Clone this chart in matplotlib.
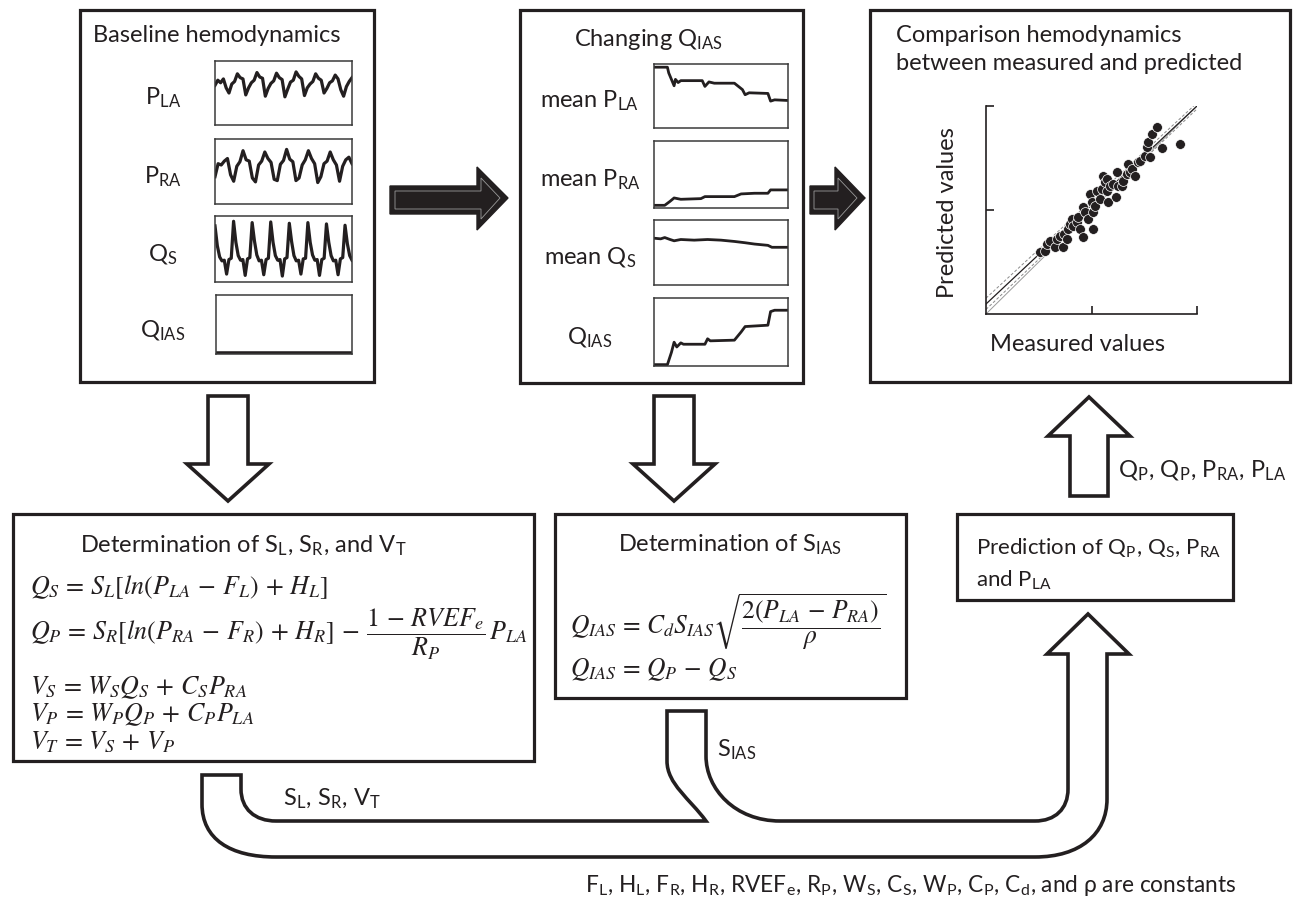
import matplotlib
matplotlib.use("Agg")
import matplotlib.pyplot as plt
from matplotlib.patches import Rectangle, Polygon, PathPatch
from matplotlib.path import Path

W, H = 1304, 904
INK = "#231f20"

plt.rcParams["font.family"] = ["Lato", "DejaVu Sans"]
plt.rcParams["mathtext.fontset"] = "stix"

# ---- data (mini traces normalised to box height) ----
pla_base = [0.62, 0.70, 0.66, 0.72, 0.58, 0.50,
            0.64, 0.68, 0.80, 0.74, 0.72, 0.47, 0.58,
            0.66, 0.70, 0.82, 0.75, 0.73, 0.45, 0.57,
            0.65, 0.69, 0.81, 0.74, 0.71, 0.44, 0.56,
            0.67, 0.70, 0.83, 0.76, 0.72, 0.46, 0.58,
            0.64, 0.68, 0.80, 0.73, 0.70, 0.50, 0.57,
            0.66, 0.69, 0.78, 0.72, 0.55, 0.45, 0.60,
            0.68, 0.74]
pra_base = [0.42, 0.62, 0.60, 0.66, 0.70, 0.45, 0.35,
            0.58, 0.65, 0.82, 0.68, 0.66, 0.40, 0.34,
            0.60, 0.66, 0.80, 0.70, 0.64, 0.38, 0.36,
            0.61, 0.67, 0.84, 0.69, 0.65, 0.36, 0.40,
            0.60, 0.68, 0.82, 0.70, 0.62, 0.33, 0.42,
            0.62, 0.66, 0.80, 0.68, 0.60, 0.35,
            0.58, 0.68, 0.72, 0.62]
qs_base = [0.85, 0.55, 0.38, 0.32, 0.33, 0.12, 0.34,
           0.36, 0.92, 0.60, 0.40, 0.33, 0.34, 0.10, 0.35,
           0.37, 0.90, 0.62, 0.41, 0.32, 0.33, 0.11, 0.34,
           0.36, 0.91, 0.60, 0.40, 0.33, 0.34, 0.09, 0.35,
           0.37, 0.89, 0.61, 0.40, 0.32, 0.33, 0.12, 0.35,
           0.36, 0.90, 0.60, 0.41, 0.33, 0.34, 0.10, 0.34,
           0.36, 0.88, 0.60, 0.40, 0.32, 0.33, 0.11, 0.35,
           0.37, 0.86, 0.58, 0.40, 0.33]
qias_base = [0.0, 0.0]

mpla_x = [0, 0.10, 0.11, 0.13, 0.15, 0.16, 0.18, 0.20, 0.36, 0.38, 0.41, 0.45,
          0.60, 0.63, 0.66, 0.68, 0.71, 0.85, 0.87, 0.90, 1.0]
mpla_y = [0.95, 0.95, 0.86, 0.76, 0.66, 0.76, 0.71, 0.74, 0.74, 0.65, 0.72, 0.70,
          0.70, 0.65, 0.60, 0.52, 0.55, 0.54, 0.42, 0.44, 0.43]
mpra_x = [0, 0.08, 0.12, 0.15, 0.20, 0.35, 0.38, 0.60, 0.65, 0.75, 0.85, 0.87, 1.0]
mpra_y = [0.04, 0.04, 0.10, 0.15, 0.13, 0.14, 0.17, 0.17, 0.21, 0.22, 0.22, 0.27, 0.27]
mqs_x = [0, 0.05, 0.08, 0.12, 0.15, 0.20, 0.30, 0.40, 0.50, 0.60, 0.68, 0.75,
         0.85, 0.88, 1.0]
mqs_y = [0.72, 0.71, 0.73, 0.70, 0.68, 0.70, 0.69, 0.70, 0.69, 0.67, 0.65, 0.63,
         0.61, 0.58, 0.58]
qias_x = [0, 0.10, 0.13, 0.15, 0.17, 0.20, 0.22, 0.38, 0.40, 0.42, 0.60, 0.65,
          0.68, 0.85, 0.87, 0.90, 1.0]
qias_y = [0.02, 0.02, 0.20, 0.35, 0.28, 0.34, 0.32, 0.32, 0.40, 0.37, 0.38, 0.50,
          0.58, 0.60, 0.80, 0.82, 0.82]

measured = [25.6, 28.0, 28.8, 30.3, 32.7, 33.5, 35.1, 36.7, 37.0, 38.2, 39.0, 39.8,
            40.6, 41.4, 43.0, 43.8, 44.5, 45.8, 46.1, 46.9, 48.5, 49.3, 50.1, 50.6,
            50.9, 51.7, 52.8, 54.0, 54.8, 55.6, 56.4, 57.2, 57.5, 58.0, 58.8, 60.3,
            61.6, 61.9, 62.7, 64.3, 65.1, 66.7, 67.5, 68.2, 69.0, 70.6, 72.2, 73.0,
            75.4, 76.5, 76.9, 77.7, 78.5, 80.9, 83.3, 91.9]
predicted = [29.6, 30.4, 33.7, 35.3, 32.1, 36.1, 37.7, 32.1, 38.3, 36.1, 40.9, 43.3,
             45.7, 42.5, 44.1, 46.5, 40.9, 36.9, 51.3, 48.9, 45.7, 57.7, 53.7, 40.9,
             48.9, 52.1, 59.3, 55.3, 60.1, 66.5, 63.3, 59.3, 64.9, 53.7, 61.7, 62.5,
             56.1, 68.1, 61.7, 61.7, 64.1, 67.3, 72.1, 68.1, 69.7, 66.5, 72.9, 73.7,
             76.1, 80.1, 82.5, 75.3, 86.5, 89.7, 79.6, 81.7]
line_x = [0, 100]
fit_y = [4.8, 100]
ci_hi_y = [7.6, 101.5]
ci_lo_y = [2.2, 98.6]
ident_y = [0, 100]

fig = plt.figure(figsize=(W / 100, H / 100), dpi=100)
ax = fig.add_axes([0, 0, 1, 1])
ax.set_xlim(0, W)
ax.set_ylim(H, 0)
ax.axis("off")

FS = 17
EQ = 18.7


def box(x0, y0, x1, y1, lw=2.3):
    ax.add_patch(Rectangle((x0, y0), x1 - x0, y1 - y0, fill=False, ec=INK, lw=lw))


def label(x, y, s, ha="center", size=FS, **kw):
    ax.text(x, y, s, ha=ha, va="center", fontsize=size, color=INK, **kw)


def eq(x, y, s, size=EQ):
    ax.text(x, y, s, ha="left", va="center", fontsize=size, color=INK,
            math_fontfamily="stix")


def mini(x0, y0, x1, y1):
    a = fig.add_axes([x0 / W, 1 - y1 / H, (x1 - x0) / W, (y1 - y0) / H])
    a.set_xticks([])
    a.set_yticks([])
    a.patch.set_alpha(0)
    for s in a.spines.values():
        s.set_linewidth(1.1)
        s.set_color("#3a3a3a")
    return a


# ---- top row boxes ----
box(80, 11, 374, 383)
box(520, 11, 803, 384)
box(870, 11, 1290, 383)

label(93, 35, "Baseline hemodynamics", ha="left")
label(648, 40, r"Changing Q$_\mathregular{IAS}$")
label(896, 35, "Comparison hemodynamics", ha="left")
label(896, 64, "between measured and predicted", ha="left")

# baseline mini plots
for (y0, y1), vals, name in zip([(62, 126), (140, 205), (217, 283)],
                               [pla_base, pra_base, qs_base],
                               [r"P$_\mathregular{LA}$", r"P$_\mathregular{RA}$",
                                r"Q$_\mathregular{S}$"]):
    a = mini(215, y0, 352, y1)
    a.plot(range(len(vals)), vals, color=INK, lw=2.3, solid_joinstyle="round")
    a.set_xlim(0, len(vals) - 1)
    a.set_ylim(0, 1)
    label(163, (y0 + y1) / 2 + 4, name)

a = mini(216, 296, 352, 355)
a.plot([0, 1], qias_base, color=INK, lw=4)
a.set_xlim(0, 1)
a.set_ylim(0, 1)
label(163, 330, r"Q$_\mathregular{IAS}$")

# changing Q_IAS mini plots
for (y0, y1), xs, ys, name in zip([(65, 129), (142, 209), (221, 286), (299, 367)],
                                  [mpla_x, mpra_x, mqs_x, qias_x],
                                  [mpla_y, mpra_y, mqs_y, qias_y],
                                  [r"mean P$_\mathregular{LA}$", r"mean P$_\mathregular{RA}$",
                                   r"mean Q$_\mathregular{S}$", r"Q$_\mathregular{IAS}$"]):
    a = mini(654, y0, 788, y1)
    a.plot(xs, ys, color=INK, lw=2.0, solid_joinstyle="round")
    a.set_xlim(0, 1)
    a.set_ylim(0, 1)
    label(590, (y0 + y1) / 2 + 4, name)

# scatter panel
sa = fig.add_axes([986 / W, 1 - 315 / H, (1197 - 986) / W, (315 - 107) / H])
sa.patch.set_alpha(0)
sa.set_xlim(0, 100)
sa.set_ylim(0, 100)
for s in ["top", "right"]:
    sa.spines[s].set_visible(False)
for s in ["left", "bottom"]:
    sa.spines[s].set_linewidth(1.2)
    sa.spines[s].set_color(INK)
sa.set_xticks([50, 100])
sa.set_yticks([50, 100])
sa.tick_params(direction="in", length=6, width=1.2, color=INK,
               labelbottom=False, labelleft=False)
sa.plot(line_x, ident_y, color="#9a9a9a", lw=0.7)
sa.plot(line_x, ci_hi_y, color="#8a8a8a", lw=0.7, ls=(0, (3, 2)))
sa.plot(line_x, ci_lo_y, color="#8a8a8a", lw=0.7, ls=(0, (3, 2)))
sa.plot(line_x, fit_y, color=INK, lw=0.9)
sa.scatter(measured, predicted, s=50, color=INK, edgecolors="white",
           linewidths=0.5, zorder=3, clip_on=False)
label(948, 213, "Predicted values", rotation=90)
label(1078, 345, "Measured values")

# big black arrows between top boxes
for outer, inner in [
    ([(390, 187), (477, 187), (477, 168), (508, 199), (477, 231), (477, 215), (390, 215)],
     [(395, 192), (481, 192), (481, 179), (500, 199), (481, 220), (481, 210), (395, 210)]),
    ([(810, 187), (835, 187), (835, 168), (865, 199), (835, 231), (835, 215), (810, 215)],
     [(814, 192), (838, 192), (838, 179), (857, 199), (838, 220), (838, 210), (814, 210)]),
]:
    ax.add_patch(Polygon(outer, closed=True, fc=INK, ec=INK, lw=1))
    ax.add_patch(Polygon(inner, closed=True, fill=False, ec="#9a9a9a", lw=0.6))


def hollow_arrow(cx, top, base, tip, half_shaft, half_head):
    pts = [(cx - half_shaft, top), (cx + half_shaft, top), (cx + half_shaft, base),
           (cx + half_head, base), (cx, tip), (cx - half_head, base),
           (cx - half_shaft, base)]
    ax.add_patch(Polygon(pts, closed=True, fc="white", ec=INK, lw=2.6,
                         joinstyle="miter"))


hollow_arrow(228, 397, 465, 502, 20, 41)
hollow_arrow(674, 397, 465, 502, 20, 41)
hollow_arrow(1089, 497, 437, 398, 19, 41)

# ---- bottom row boxes ----
box(13, 515, 534, 762)
box(555, 515, 906, 699)
box(957, 515, 1233, 601)

label(243, 545, r"Determination of S$_\mathregular{L}$, S$_\mathregular{R}$, and V$_\mathregular{T}$")
eq(30, 587, r"$Q_S \,=\, S_L[ln(P_{LA} \,-\, F_L) \,+\, H_L]$")
eq(30, 634, r"$Q_P \,=\, S_R[ln(P_{RA} \,-\, F_R) \,+\, H_R] \,-\, "
            r"\dfrac{1 \,-\, RVEF_e}{R_P}\,P_{LA}$")
eq(30, 688, r"$V_S \,=\, W_S Q_S \,+\, C_S P_{RA}$")
eq(30, 715, r"$V_P \,=\, W_P Q_P \,+\, C_P P_{LA}$")
eq(30, 742, r"$V_T \,=\, V_S \,+\, V_P$")

label(730, 545, r"Determination of S$_\mathregular{IAS}$")
eq(570, 622, r"$Q_{IAS} \,=\, C_d S_{IAS} \sqrt{\dfrac{2(P_{LA} \,-\, P_{RA})}{\rho}}$", size=18.4)
eq(570, 670, r"$Q_{IAS} \,=\, Q_P \,-\, Q_S$", size=18.4)

label(976, 548, r"Prediction of Q$_\mathregular{P}$, Q$_\mathregular{S}$, P$_\mathregular{RA}$",
      ha="left", size=16)
label(976, 580, r"and P$_\mathregular{LA}$", ha="left", size=16)
label(1118, 470, r"Q$_\mathregular{P}$, Q$_\mathregular{P}$, P$_\mathregular{RA}$, P$_\mathregular{LA}$", ha="left")

# ---- merged pipe arrow along the bottom ----
M, L, C = Path.MOVETO, Path.LINETO, Path.CURVE4
verts = [(202, 776), (202, 805),
         (202, 840), (230, 858), (276, 858),
         (1035, 858),
         (1080, 858), (1107, 835), (1107, 800),
         (1107, 655), (1129, 655), (1088, 615), (1047, 655), (1068, 655),
         (1068, 790),
         (1068, 810), (1055, 822), (1035, 822),
         (780, 822),
         (735, 822), (706, 790), (706, 757),
         (706, 712), (667, 712), (667, 762),
         (667, 785), (690, 800), (706, 822),
         (276, 822),
         (255, 822), (241, 810), (241, 790),
         (241, 776), (202, 776)]
codes = [M, L,
         C, C, C,
         L,
         C, C, C,
         L, L, L, L, L,
         L,
         C, C, C,
         L,
         C, C, C,
         L, L, L,
         C, C, C,
         L,
         C, C, C,
         L, Path.CLOSEPOLY]
ax.add_patch(PathPatch(Path(verts, codes), fc="white", ec=INK, lw=2.6,
                       joinstyle="miter"))

label(283, 798, r"S$_\mathregular{L}$, S$_\mathregular{R}$, V$_\mathregular{T}$", ha="left")
label(717, 750, r"S$_\mathregular{IAS}$", ha="left")
label(1236, 886, r"F$_\mathregular{L}$, H$_\mathregular{L}$, F$_\mathregular{R}$, H$_\mathregular{R}$, "
      r"RVEF$_\mathregular{e}$, R$_\mathregular{P}$, W$_\mathregular{S}$, C$_\mathregular{S}$, "
      r"W$_\mathregular{P}$, C$_\mathregular{P}$, C$_\mathregular{d}$, and ρ are constants",
      ha="right", size=16.3)

fig.savefig("out.png", dpi=100)
